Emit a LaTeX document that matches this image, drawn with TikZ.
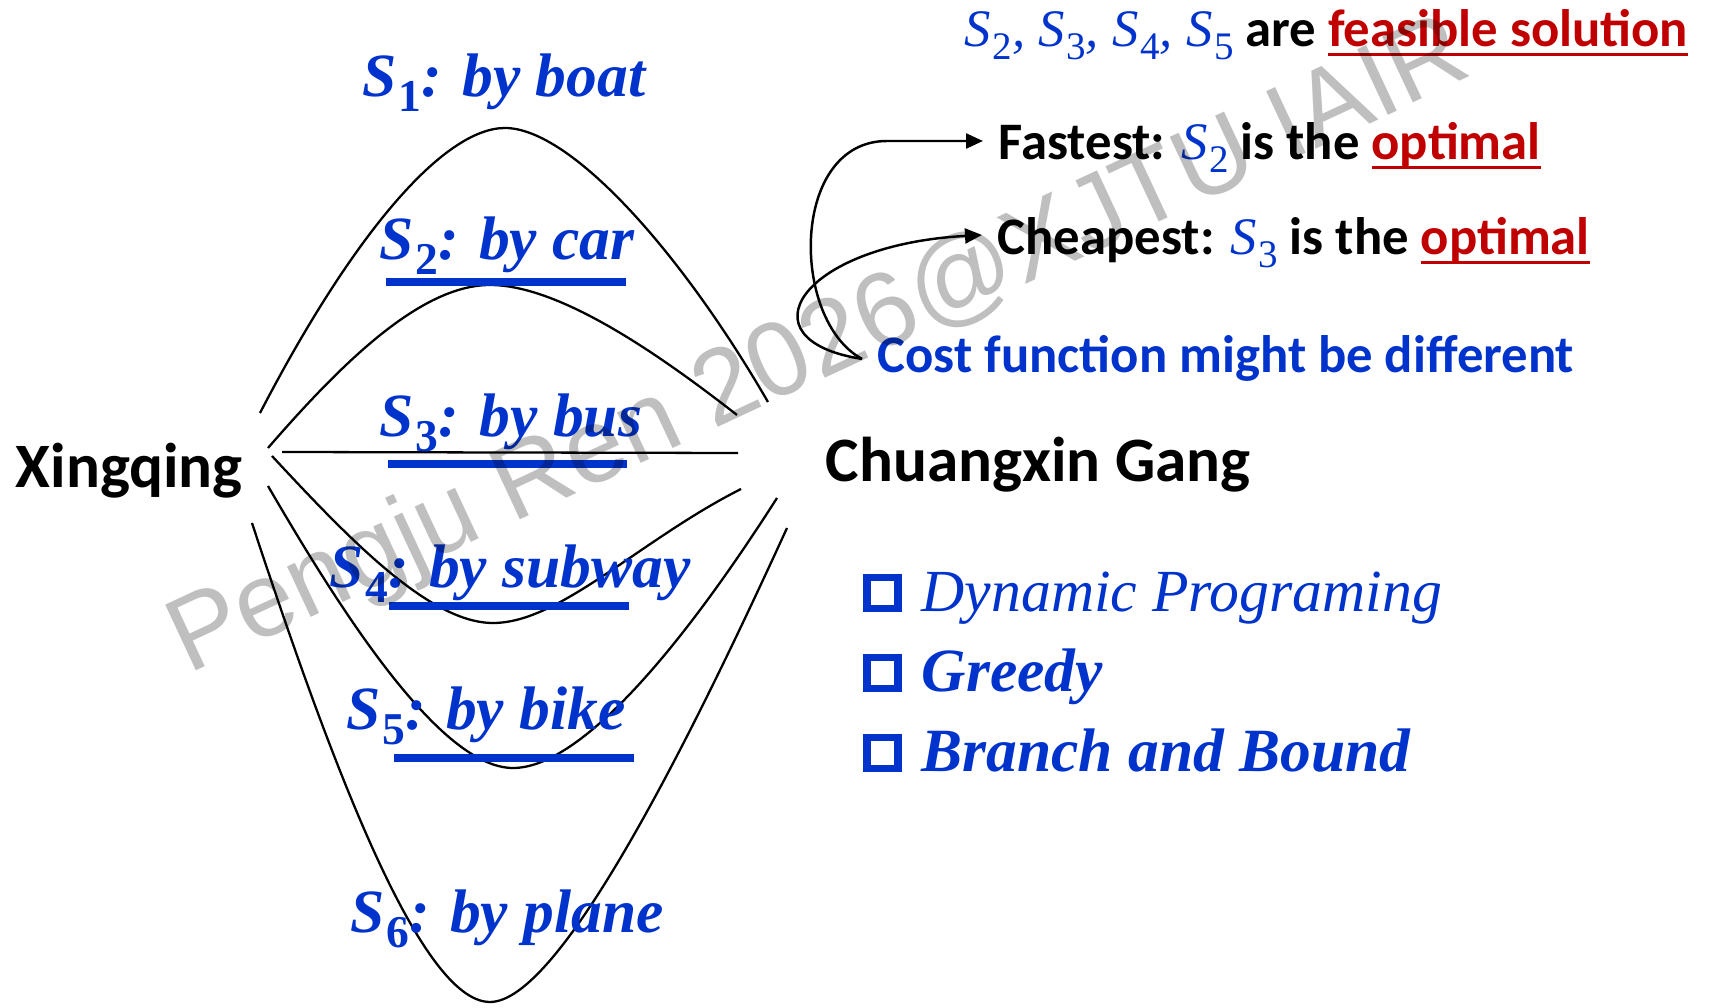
\documentclass[tikz,border=0pt]{standalone}
\usepackage{fontspec}
\usepackage{graphicx}
\setmainfont{Carlito}
\newfontfamily\cambria{Liberation Serif}
\newfontfamily\wmfont{Liberation Sans}
\usetikzlibrary{arrows.meta}
\definecolor{myblue}{RGB}{0, 51, 204}
\definecolor{myred}{RGB}{192, 0, 0}
\newsavebox\ulbox
\newcommand\redul[1]{\sbox\ulbox{#1}\rlap{\rule[-0.18em]{\wd\ulbox}{0.06em}}\usebox\ulbox}
\newcommand\sol[1]{S\kern0.03em\raisebox{-0.24em}{\scalebox{0.74}{\upshape #1}}}

\begin{document}
\begin{tikzpicture}[every node/.style={inner sep=0pt},
  place/.style={font=\fontsize{18}{22}\selectfont\bfseries, anchor=base west},
  way/.style={font=\fontsize{17.5}{21}\selectfont\cambria\bfseries\itshape, text=myblue, anchor=base},
  note/.style={font=\fontsize{15}{18}\selectfont\bfseries, anchor=base west, inner sep=1.5mm},
  algo/.style={font=\fontsize{17.5}{21}\selectfont\cambria\bfseries\itshape, text=myblue, anchor=base west},
  chkbox/.style={draw=myblue, line width=2pt, minimum size=3.1mm},
  route/.style={line width=0.65pt},
  uline/.style={myblue, line width=2pt},
  arr/.style={-{Triangle[length=1.7mm, width=1.5mm]}, line width=0.7pt},
  wm/.style={font=\fontsize{30}{36}\selectfont\wmfont, text=black, text opacity=0.25}]

\useasboundingbox (0,0) rectangle (17.25,-10.08);

% the two places
\node[place] (xq) at (0.15,-4.88) {Xingqing};
\node[place] (cg) at (8.25,-4.82) {Chuangxin Gang};

% route end points (left fan and right fan)
\coordinate (a1) at (2.60,-4.13); \coordinate (b1) at (7.68,-4.02);
\coordinate (a2) at (2.68,-4.48); \coordinate (b2) at (7.37,-4.15);
\coordinate (a3) at (2.82,-4.52); \coordinate (b3) at (7.38,-4.53);
\coordinate (a4) at (2.72,-4.56); \coordinate (b4) at (7.41,-4.89);
\coordinate (a5) at (2.68,-4.86); \coordinate (b5) at (7.77,-4.98);
\coordinate (a6) at (2.52,-5.23); \coordinate (b6) at (7.87,-5.28);

% the six routes
\draw[route] (a1) .. controls (3.55,-2.30) and (4.45,-1.28) .. (5.05,-1.28)
  .. controls (5.70,-1.28) and (6.80,-2.50) .. (b1);
\draw[route] (a2) .. controls (3.40,-3.65) and (4.20,-2.85) .. (4.90,-2.85)
  .. controls (5.60,-2.85) and (6.60,-3.55) .. (b2);
\draw[route] (a3) -- (b3);
\draw[route] (a4) .. controls (3.50,-5.40) and (4.30,-6.23) .. (4.93,-6.23)
  .. controls (5.60,-6.23) and (6.40,-5.40) .. (b4);
\draw[route] (a5) .. controls (3.40,-6.10) and (4.40,-7.68) .. (5.13,-7.68)
  .. controls (5.80,-7.68) and (6.80,-6.50) .. (b5);
\draw[route] (a6) .. controls (3.30,-7.60) and (4.20,-10.02) .. (4.90,-10.02)
  .. controls (5.60,-10.02) and (6.90,-7.40) .. (b6);

% route labels
\node[way] (s1) at (5.04,-0.97) {\sol{1}: by boat};
\node[way] (s2) at (5.07,-2.60) {\sol{2}: by car};
\node[way] (s3) at (5.11,-4.37) {\sol{3}: by bus};
\node[way] (s4) at (5.10,-5.88) {\sol{4}: by subway};
\node[way] (s5) at (4.86,-7.30) {\sol{5}: by bike};
\node[way] (s6) at (5.07,-9.33) {\sol{6}: by plane};

% feasible ones are underlined
\draw[uline] (3.86,-2.82) -- (6.26,-2.82);
\draw[uline] (3.88,-4.64) -- (6.27,-4.64);
\draw[uline] (3.89,-6.06) -- (6.29,-6.06);
\draw[uline] (3.94,-7.58) -- (6.34,-7.58);

% right hand notes
\node[note] (feas) at (9.49,-0.47) {{\color{myblue}\cambria\mdseries\itshape
  \sol{2}, \sol{3}, \sol{4}, \sol{5}} are \textcolor{myred}{\redul{feasible solution}}};
\node[note] (fast) at (9.83,-1.60) {Fastest: {\color{myblue}\cambria\mdseries\itshape
  \sol{2}} is the \textcolor{myred}{\redul{optimal}}};
\node[note] (cheap) at (9.82,-2.55) {Cheapest: {\color{myblue}\cambria\mdseries\itshape
  \sol{3}} is the \textcolor{myred}{\redul{optimal}}};
\node[note, text=myblue] (cost) at (8.62,-3.73) {Cost function might be different};

\coordinate (fk) at (0,-1.41);
\coordinate (ck) at (0,-2.35);
\draw[arr] (cost.west) .. controls (7.90,-3.20) and (7.90,-1.41) .. (8.87,-1.41)
  -- (fk -| fast.west);
\draw[arr] (cost.west) .. controls (7.40,-3.40) and (8.00,-2.45) .. (ck -| cheap.west);

% algorithm list
\node[chkbox] (c1) at (8.825,-5.93) {};
\node[chkbox] (c2) at (8.825,-6.73) {};
\node[chkbox] (c3) at (8.825,-7.53) {};
\node[algo, font=\fontsize{17}{21}\selectfont\cambria\itshape] (dp) at (9.21,-6.12) {Dynamic Programing};
\node[algo] (gr) at (9.21,-6.92) {Greedy};
\node[algo] (bb) at (9.21,-7.72) {Branch and Bound};

% watermark
\node[wm, rotate=25] (mark) at (8.20,-3.50) {Pengju Ren 2026@XJTU IAIR};

\end{tikzpicture}
\end{document}
